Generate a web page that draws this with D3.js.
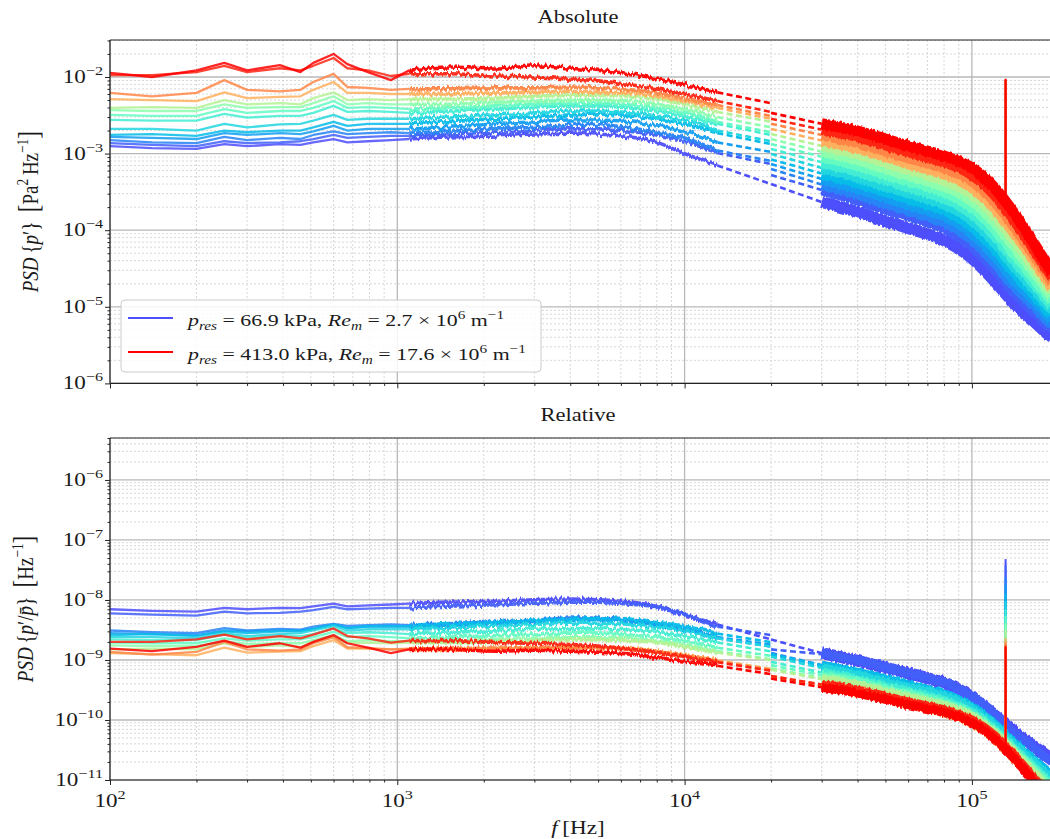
<!DOCTYPE html>
<html><head><meta charset="utf-8">
<script src="https://cdn.jsdelivr.net/npm/d3@7"></script>
<style>
body{margin:0;background:#fff}
svg{display:block}
text{font-family:"Liberation Serif","DejaVu Serif",serif;fill:#1a1a1a}
</style>
</head><body>
<svg id="c" width="1050" height="839"></svg>
<script>
// ---------------- DATA ----------------
const pressures = [66.9, 75, 95, 110, 130, 150, 175, 200, 230, 260, 320, 345, 395, 413.0]; // kPa
const freqA = [100, 140, 200, 250, 300, 390, 460, 510, 600, 670, 790, 950, 1100, 1500, 2200, 3000, 4000, 5000, 6500, 8000, 10000, 13000];
const freqGap = 20000;
const freqC = [30000, 40000, 50000, 60000, 70000, 80000, 100000, 120000, 140000, 160000, 190000];
const spikeFreq = 131000;
const xTickValues = [100, 1000, 10000, 100000];
const xTickExp = ["2", "3", "4", "5"];
const absTickValues = [1e-6, 1e-5, 1e-4, 1e-3, 1e-2];
const absTickExp = ["\u22126", "\u22125", "\u22124", "\u22123", "\u22122"];
const relTickValues = [1e-11, 1e-10, 1e-9, 1e-8, 1e-7, 1e-6];
const relTickExp = ["\u221211", "\u221210", "\u22129", "\u22128", "\u22127", "\u22126"];
const legendRe = ["2.7", "17.6"];
const legendP = ["66.9", "413.0"];

// Absolute PSD, Pa^2/Hz
const absA = [
 [1.25e-3,1.18e-3,1.15e-3,1.33e-3,1.25e-3,1.33e-3,1.3e-3,1.4e-3,1.55e-3,1.4e-3,1.45e-3,1.5e-3,1.55e-3,1.65e-3,1.7e-3,1.8e-3,1.85e-3,1.8e-3,1.65e-3,1.4e-3,1.0e-3,7.0e-4],
 [1.37e-3,1.3e-3,1.25e-3,1.45e-3,1.37e-3,1.4e-3,1.45e-3,1.55e-3,1.75e-3,1.6e-3,1.65e-3,1.7e-3,1.7e-3,1.8e-3,1.9e-3,2.0e-3,2.1e-3,2.1e-3,1.95e-3,1.75e-3,1.45e-3,1.02e-3],
 [1.5e-3,1.4e-3,1.37e-3,1.65e-3,1.5e-3,1.6e-3,1.55e-3,1.75e-3,1.95e-3,1.8e-3,1.85e-3,1.9e-3,1.85e-3,1.95e-3,2.1e-3,2.2e-3,2.4e-3,2.4e-3,2.15e-3,1.9e-3,1.6e-3,1.1e-3],
 [1.65e-3,1.6e-3,1.55e-3,1.85e-3,1.75e-3,1.85e-3,1.8e-3,1.95e-3,2.3e-3,2.0e-3,2.1e-3,2.1e-3,2.1e-3,2.2e-3,2.45e-3,2.6e-3,2.75e-3,2.75e-3,2.6e-3,2.3e-3,1.95e-3,1.4e-3],
 [1.75e-3,1.8e-3,1.7e-3,2.0e-3,1.9e-3,2.0e-3,2.0e-3,2.2e-3,2.6e-3,2.3e-3,2.45e-3,2.45e-3,2.45e-3,2.6e-3,2.85e-3,3.0e-3,3.2e-3,3.3e-3,3.1e-3,2.85e-3,2.45e-3,1.85e-3],
 [2.1e-3,2.1e-3,2.0e-3,2.45e-3,2.2e-3,2.4e-3,2.45e-3,2.7e-3,3.2e-3,2.75e-3,2.85e-3,2.85e-3,2.85e-3,3.0e-3,3.2e-3,3.4e-3,3.6e-3,3.6e-3,3.4e-3,3.1e-3,2.7e-3,2.0e-3],
 [2.75e-3,2.7e-3,2.7e-3,3.3e-3,2.95e-3,3.1e-3,3.1e-3,3.4e-3,4.2e-3,3.5e-3,3.6e-3,3.5e-3,3.4e-3,3.6e-3,3.8e-3,4.05e-3,4.2e-3,4.2e-3,3.95e-3,3.6e-3,3.1e-3,2.45e-3],
 [3.2e-3,3.1e-3,3.1e-3,3.8e-3,3.4e-3,3.6e-3,3.6e-3,3.95e-3,4.85e-3,3.95e-3,4.05e-3,3.95e-3,3.8e-3,3.95e-3,4.2e-3,4.4e-3,4.55e-3,4.55e-3,4.3e-3,3.95e-3,3.4e-3,2.6e-3],
 [3.7e-3,3.6e-3,3.6e-3,4.4e-3,3.95e-3,4.05e-3,4.05e-3,4.55e-3,5.6e-3,4.4e-3,4.55e-3,4.4e-3,4.4e-3,4.4e-3,4.7e-3,4.85e-3,5.0e-3,5.0e-3,4.85e-3,4.4e-3,3.8e-3,3.0e-3],
 [3.95e-3,4.05e-3,3.95e-3,5.0e-3,4.4e-3,4.55e-3,4.4e-3,5.3e-3,6.3e-3,5.0e-3,5.15e-3,5.0e-3,5.15e-3,5.15e-3,5.3e-3,5.6e-3,5.8e-3,5.8e-3,5.6e-3,5.15e-3,4.4e-3,3.5e-3],
 [5.15e-3,5.0e-3,4.85e-3,6.3e-3,5.3e-3,5.5e-3,5.6e-3,6.8e-3,8.6e-3,6.2e-3,6.2e-3,6.0e-3,6.0e-3,6.0e-3,6.2e-3,6.3e-3,6.5e-3,6.3e-3,6.2e-3,5.6e-3,4.85e-3,3.95e-3],
 [6.2e-3,5.6e-3,6.2e-3,9.1e-3,6.8e-3,6.5e-3,6.8e-3,8.6e-3,1.1e-2,7.4e-3,7.2e-3,6.8e-3,7.0e-3,7.0e-3,7.2e-3,7.2e-3,7.4e-3,7.2e-3,6.8e-3,6.2e-3,5.3e-3,4.3e-3],
 [1.06e-2,1.06e-2,1.16e-2,1.4e-2,1.16e-2,1.3e-2,1.22e-2,1.4e-2,1.77e-2,1.3e-2,1.22e-2,1.03e-2,1.1e-2,1.1e-2,1.03e-2,1.0e-2,9.4e-3,8.9e-3,7.9e-3,7.0e-3,6.0e-3,4.85e-3],
 [1.13e-2,1.0e-2,1.22e-2,1.53e-2,1.22e-2,1.43e-2,1.16e-2,1.53e-2,2.0e-2,1.47e-2,1.16e-2,9.1e-3,1.22e-2,1.35e-2,1.27e-2,1.4e-2,1.3e-2,1.22e-2,1.1e-2,9.4e-3,7.9e-3,6.3e-3]
];
const absGapEnd = [4.0e-4, 7.3e-4, 8.0e-4, 1.05e-3, 1.33e-3, 1.45e-3, 1.75e-3, 1.9e-3, 2.2e-3, 2.6e-3, 2.85e-3, 3.1e-3, 3.5e-3, 4.55e-3];
const absGapStart = [4.0e-4, 5.25e-4, 6.3e-4, 7.3e-4, 8.4e-4, 9.9e-4, 1.15e-3, 1.33e-3, 1.55e-3, 1.8e-3, 2.1e-3, 2.45e-3, 2.85e-3, 3.4e-3];
const absC = [
 [2.33e-4,1.73e-4,1.32e-4,1.07e-4,8.9e-5,7.4e-5,4.3e-5,2.17e-5,1.12e-5,7.1e-6,3.9e-6],
 [3.35e-4,2.48e-4,1.89e-4,1.53e-4,1.28e-4,1.07e-4,6.2e-5,3.1e-5,1.56e-5,9.6e-6,5.1e-6],
 [3.95e-4,2.95e-4,2.25e-4,1.82e-4,1.53e-4,1.28e-4,7.6e-5,3.8e-5,1.9e-5,1.15e-5,5.9e-6],
 [4.66e-4,3.5e-4,2.69e-4,2.18e-4,1.82e-4,1.53e-4,9.2e-5,4.7e-5,2.32e-5,1.37e-5,6.8e-6],
 [5.5e-4,4.16e-4,3.2e-4,2.59e-4,2.18e-4,1.84e-4,1.12e-4,5.7e-5,2.83e-5,1.63e-5,7.8e-6],
 [6.5e-4,4.95e-4,3.81e-4,3.09e-4,2.6e-4,2.2e-4,1.36e-4,7.0e-5,3.45e-5,1.94e-5,9.0e-6],
 [7.7e-4,5.9e-4,4.55e-4,3.69e-4,3.1e-4,2.63e-4,1.65e-4,8.6e-5,4.2e-5,2.32e-5,1.03e-5],
 [9.1e-4,7.0e-4,5.4e-4,4.4e-4,3.72e-4,3.15e-4,2.0e-4,1.05e-4,5.1e-5,2.76e-5,1.19e-5],
 [1.06e-3,8.3e-4,6.4e-4,5.2e-4,4.4e-4,3.78e-4,2.44e-4,1.29e-4,6.2e-5,3.3e-5,1.37e-5],
 [1.26e-3,1.0e-3,7.7e-4,6.2e-4,5.3e-4,4.5e-4,2.97e-4,1.58e-4,7.6e-5,3.9e-5,1.57e-5],
 [1.48e-3,1.17e-3,9.2e-4,7.4e-4,6.3e-4,5.4e-4,3.6e-4,1.94e-4,9.3e-5,4.7e-5,1.8e-5],
 [1.75e-3,1.4e-3,1.09e-3,8.8e-4,7.6e-4,6.5e-4,4.4e-4,2.37e-4,1.13e-4,5.6e-5,2.1e-5],
 [2.06e-3,1.66e-3,1.30e-3,1.06e-3,8.9e-4,7.8e-4,5.3e-4,2.9e-4,1.37e-4,6.6e-5,2.4e-5],
 [2.45e-3,1.97e-3,1.55e-3,1.26e-3,1.08e-3,9.3e-4,6.5e-4,3.56e-4,1.68e-4,7.9e-5,2.76e-5]
];
const absSpikeBase = [1.56e-5, 2.2e-5, 2.7e-5, 3.3e-5, 4.0e-5, 4.9e-5, 6.0e-5, 7.3e-5, 8.9e-5, 1.1e-4, 1.34e-4, 1.64e-4, 2.0e-4, 2.45e-4];
const absSpikeTop = [9.0e-3, 9.0e-3, 9.0e-3, 9.0e-3, 9.0e-3, 9.0e-3, 9.0e-3, 9.0e-3, 9.0e-3, 9.0e-3, 9.0e-3, 9.0e-3, 9.2e-3, 9.5e-3];

// Relative PSD, 1/Hz
const relA = [
 [7.0e-9,6.6e-9,6.4e-9,7.4e-9,7.0e-9,7.4e-9,7.3e-9,7.8e-9,8.7e-9,7.8e-9,8.1e-9,8.4e-9,8.7e-9,9.2e-9,9.5e-9,1.01e-8,1.04e-8,1.01e-8,9.2e-9,7.8e-9,5.6e-9,3.9e-9],
 [6.0e-9,5.7e-9,5.5e-9,6.4e-9,6.0e-9,6.1e-9,6.4e-9,6.8e-9,7.7e-9,7.0e-9,7.2e-9,7.4e-9,7.4e-9,7.9e-9,8.3e-9,8.8e-9,9.2e-9,9.2e-9,8.5e-9,7.7e-9,5.8e-9,3.6e-9],
 [3.1e-9,2.9e-9,2.8e-9,3.4e-9,3.1e-9,3.3e-9,3.2e-9,3.6e-9,4.0e-9,3.7e-9,3.8e-9,3.9e-9,3.8e-9,4.0e-9,4.3e-9,4.6e-9,5.0e-9,5.0e-9,4.5e-9,3.9e-9,3.3e-9,2.3e-9],
 [2.8e-9,2.7e-9,2.6e-9,3.1e-9,3.0e-9,3.1e-9,3.1e-9,3.3e-9,3.9e-9,3.4e-9,3.6e-9,3.6e-9,3.6e-9,3.7e-9,4.2e-9,4.4e-9,4.7e-9,4.7e-9,4.4e-9,3.9e-9,3.3e-9,2.4e-9],
 [2.6e-9,2.7e-9,2.5e-9,3.0e-9,2.8e-9,3.0e-9,3.0e-9,3.3e-9,3.9e-9,3.4e-9,3.65e-9,3.65e-9,3.65e-9,3.9e-9,4.2e-9,4.5e-9,4.8e-9,4.9e-9,4.6e-9,4.2e-9,3.65e-9,2.75e-9],
 [2.4e-9,2.4e-9,2.3e-9,2.8e-9,2.5e-9,2.7e-9,2.8e-9,3.1e-9,3.65e-9,3.1e-9,3.25e-9,3.25e-9,3.25e-9,3.4e-9,3.65e-9,3.9e-9,4.1e-9,4.1e-9,3.9e-9,3.5e-9,3.1e-9,2.3e-9],
 [2.2e-9,2.15e-9,2.15e-9,2.65e-9,2.35e-9,2.5e-9,2.5e-9,2.7e-9,3.35e-9,2.8e-9,2.9e-9,2.8e-9,2.7e-9,2.9e-9,3.05e-9,3.25e-9,3.35e-9,3.35e-9,3.15e-9,2.9e-9,2.5e-9,1.95e-9],
 [1.95e-9,1.9e-9,1.9e-9,2.3e-9,2.1e-9,2.2e-9,2.2e-9,2.4e-9,2.95e-9,2.4e-9,2.5e-9,2.4e-9,2.3e-9,2.4e-9,2.55e-9,2.7e-9,2.8e-9,2.8e-9,2.6e-9,2.4e-9,2.1e-9,1.6e-9],
 [1.75e-9,1.7e-9,1.7e-9,2.05e-9,1.85e-9,1.9e-9,1.9e-9,2.15e-9,2.6e-9,2.05e-9,2.15e-9,2.05e-9,2.05e-9,2.05e-9,2.2e-9,2.3e-9,2.35e-9,2.35e-9,2.3e-9,2.05e-9,1.8e-9,1.4e-9],
 [1.5e-9,1.55e-9,1.5e-9,1.9e-9,1.65e-9,1.75e-9,1.65e-9,2.0e-9,2.4e-9,1.9e-9,1.95e-9,1.9e-9,1.95e-9,1.95e-9,2.0e-9,2.1e-9,2.2e-9,2.2e-9,2.1e-9,1.95e-9,1.65e-9,1.33e-9],
 [1.3e-9,1.25e-9,1.2e-9,1.6e-9,1.33e-9,1.38e-9,1.4e-9,1.7e-9,2.15e-9,1.55e-9,1.55e-9,1.5e-9,1.5e-9,1.5e-9,1.55e-9,1.6e-9,1.6e-9,1.6e-9,1.55e-9,1.4e-9,1.2e-9,9.9e-10],
 [1.36e-9,1.23e-9,1.36e-9,2.0e-9,1.5e-9,1.43e-9,1.5e-9,1.9e-9,2.4e-9,1.63e-9,1.58e-9,1.5e-9,1.54e-9,1.54e-9,1.58e-9,1.58e-9,1.63e-9,1.58e-9,1.5e-9,1.36e-9,1.17e-9,9.5e-10],
 [2.0e-9,2.0e-9,2.2e-9,2.65e-9,2.2e-9,2.5e-9,2.3e-9,2.65e-9,3.35e-9,2.5e-9,2.3e-9,1.95e-9,2.1e-9,2.1e-9,1.95e-9,1.9e-9,1.8e-9,1.7e-9,1.5e-9,1.33e-9,1.14e-9,9.2e-10],
 [1.55e-9,1.4e-9,1.65e-9,2.1e-9,1.65e-9,1.9e-9,1.6e-9,2.0e-9,2.6e-9,1.9e-9,1.6e-9,1.3e-9,1.5e-9,1.5e-9,1.4e-9,1.45e-9,1.4e-9,1.35e-9,1.25e-9,1.1e-9,9.5e-10,8.0e-10]
];
const relGapEnd = [2.2e-9, 2.6e-9, 1.67e-9, 1.8e-9, 1.98e-9, 1.67e-9, 1.39e-9, 1.17e-9, 1.03e-9, 9.9e-10, 7.1e-10, 6.8e-10, 6.6e-10, 5.8e-10];
const relGapStart = [2.2e-9, 1.5e-9, 1.31e-9, 1.24e-9, 1.25e-9, 1.13e-9, 9.3e-10, 8.2e-10, 7.3e-10, 6.9e-10, 5.3e-10, 5.4e-10, 5.4e-10, 4.9e-10];
const relC = [
 [1.3e-9,9.7e-10,7.4e-10,6.0e-10,5.0e-10,4.1e-10,2.4e-10,1.2e-10,6.3e-11,4.0e-11,2.2e-11],
 [1.25e-9,9.9e-10,7.6e-10,6.1e-10,5.1e-10,4.3e-10,2.5e-10,1.24e-10,6.2e-11,3.8e-11,2.0e-11],
 [8.2e-10,6.1e-10,4.7e-10,3.8e-10,3.2e-10,2.65e-10,1.57e-10,7.9e-11,3.9e-11,2.4e-11,1.2e-11],
 [7.9e-10,6.0e-10,4.6e-10,3.7e-10,3.1e-10,2.6e-10,1.56e-10,8.0e-11,3.9e-11,2.3e-11,1.16e-11],
 [8.2e-10,6.2e-10,4.8e-10,3.9e-10,3.2e-10,2.7e-10,1.67e-10,8.5e-11,4.2e-11,2.4e-11,1.16e-11],
 [7.4e-10,5.6e-10,4.3e-10,3.5e-10,3.0e-10,2.5e-10,1.55e-10,8.0e-11,3.9e-11,2.2e-11,1.03e-11],
 [6.2e-10,4.7e-10,3.6e-10,2.95e-10,2.5e-10,2.1e-10,1.32e-10,6.9e-11,3.4e-11,1.86e-11,8.2e-12],
 [5.6e-10,4.3e-10,3.3e-10,2.7e-10,2.3e-10,1.9e-10,1.22e-10,6.4e-11,3.1e-11,1.7e-11,7.3e-12],
 [5.0e-10,3.9e-10,3.0e-10,2.45e-10,2.07e-10,1.78e-10,1.15e-10,6.1e-11,2.9e-11,1.55e-11,6.4e-12],
 [4.8e-10,3.8e-10,2.9e-10,2.35e-10,2.0e-10,1.7e-10,1.13e-10,6.0e-11,2.9e-11,1.48e-11,6.0e-12],
 [3.7e-10,2.9e-10,2.3e-10,1.85e-10,1.58e-10,1.35e-10,9.0e-11,4.9e-11,2.3e-11,1.18e-11,4.5e-12],
 [3.85e-10,3.1e-10,2.4e-10,1.94e-10,1.67e-10,1.43e-10,9.7e-11,5.2e-11,2.5e-11,1.23e-11,4.6e-12],
 [3.9e-10,3.15e-10,2.5e-10,2.0e-10,1.7e-10,1.48e-10,1.0e-10,5.5e-11,2.6e-11,1.25e-11,4.6e-12],
 [3.5e-10,2.8e-10,2.2e-10,1.8e-10,1.55e-10,1.33e-10,9.0e-11,4.9e-11,2.3e-11,1.1e-11,3.8e-12]
];
const relSpikeBase = [8.7e-11, 8.8e-11, 5.5e-11, 5.6e-11, 6.0e-11, 5.6e-11, 4.8e-11, 4.5e-11, 4.2e-11, 4.2e-11, 3.4e-11, 3.6e-11, 3.8e-11, 3.4e-11];
const relSpikeTop = [4.8e-8, 3.8e-8, 2.4e-8, 1.8e-8, 1.27e-8, 9.5e-9, 7.0e-9, 5.4e-9, 4.1e-9, 3.2e-9, 2.3e-9, 2.0e-9, 1.75e-9, 1.65e-9];

// ---------------- DRAWING ----------------
const svg = d3.select('#c');
const defs = svg.append('defs');
const xMax = 1.87e5;
const x = d3.scaleLog().domain([100, xMax]).range([110, 1050]);
const SX = 1.25;   // horizontal glyph stretch seen in the reference

function rainbow(t){
  const r = Math.min(1, Math.abs(2*t - 0.5)), g = Math.sin(Math.PI*t), b = Math.cos(Math.PI*t/2);
  return d3.rgb(r*255, g*255, b*255).formatHex();
}
const pMin = d3.min(pressures), pMax = d3.max(pressures);
const color = p => rainbow(0.1 + 0.9*(p - pMin)/(pMax - pMin));

// jitter filters: visual texture for the densely sampled spectra
function jitterFilter(id, seed, freq, scale){
  const f = defs.append('filter').attr('id', id).attr('filterUnits', 'userSpaceOnUse')
    .attr('x', 0).attr('y', 0).attr('width', 1050).attr('height', 839).attr('color-interpolation-filters', 'sRGB');
  f.append('feTurbulence').attr('type', 'fractalNoise').attr('baseFrequency', freq)
    .attr('numOctaves', 2).attr('seed', seed).attr('result', 'n');
  f.append('feColorMatrix').attr('in', 'n').attr('type', 'matrix')
    .attr('values', '0 0 0 0 0.5  1 0 0 0 0  0 0 0 0 0  0 0 0 0 1').attr('result', 'm');
  f.append('feDisplacementMap').attr('in', 'SourceGraphic').attr('in2', 'm').attr('scale', scale)
    .attr('xChannelSelector', 'R').attr('yChannelSelector', 'G');
}
pressures.forEach((p, i) => {
  jitterFilter('jitA' + i, i*7 + 3, '0.4 0.02', 7);
  jitterFilter('jitC' + i, i*5 + 11, '0.45 0.03', 5);
});

function minors(lo, hi){
  const out = [];
  for (let k = Math.floor(Math.log10(lo)); k <= Math.ceil(Math.log10(hi)); k++)
    for (let m = 2; m <= 9; m++){ const v = m*Math.pow(10,k); if (v > lo && v < hi) out.push(v); }
  return out;
}

function addMath(sel, parts, baseSize){
  parts.forEach(p => {
    const ts = sel.append('tspan').text(p.t);
    if (p.i) ts.attr('font-style','italic');
    if (p.sub){ ts.attr('font-size', baseSize*0.7).attr('baseline-shift', -baseSize*0.22); }
    if (p.sup){ ts.attr('font-size', baseSize*0.7).attr('baseline-shift', baseSize*0.42); }
    if (p.fs) ts.attr('font-size', p.fs);
  });
}
function stext(parent, px, py, size, anchor, rot){
  return parent.append('text')
    .attr('transform', `translate(${px},${py}) scale(${SX},1)` + (rot ? ` rotate(${rot})` : ''))
    .attr('text-anchor', anchor).attr('font-size', size);
}

function panel(cfg){
  const y = d3.scaleLog().domain(cfg.domain).range(cfg.range);
  const top = cfg.range[1], bot = cfg.range[0], left = 110, right = 1050;
  const g = svg.append('g');
  const clipId = 'clip' + cfg.id;
  defs.append('clipPath').attr('id', clipId).append('rect')
    .attr('x', left).attr('y', top).attr('width', right-left).attr('height', bot-top);

  // grid
  const grid = g.append('g');
  minors(100, xMax).forEach(v => grid.append('line').attr('x1', x(v)).attr('x2', x(v)).attr('y1', top).attr('y2', bot)
    .attr('stroke', '#cdcdcd').attr('stroke-width', 0.8).attr('stroke-dasharray', '2,2'));
  minors(cfg.domain[0], cfg.domain[1]).forEach(v => grid.append('line').attr('y1', y(v)).attr('y2', y(v)).attr('x1', left).attr('x2', right)
    .attr('stroke', '#cdcdcd').attr('stroke-width', 0.8).attr('stroke-dasharray', '2,2'));
  xTickValues.forEach(v => grid.append('line').attr('x1', x(v)).attr('x2', x(v)).attr('y1', top).attr('y2', bot)
    .attr('stroke', '#b8b8b8').attr('stroke-width', 1.3));
  cfg.ticks.forEach(v => grid.append('line').attr('y1', y(v)).attr('y2', y(v)).attr('x1', left).attr('x2', right)
    .attr('stroke', '#b8b8b8').attr('stroke-width', 1.3));

  // data
  const dg = g.append('g').attr('clip-path', `url(#${clipId})`);
  const line = d3.line().x(d => x(d[0])).y(d => y(d[1]));
  const smooth = d3.line().x(d => x(d[0])).y(d => y(d[1])).curve(d3.curveMonotoneX);
  const nA = freqA.length, split = freqA.indexOf(1100);
  pressures.forEach((p, i) => {
    const c = color(p);
    const ptsA = freqA.map((f, j) => [f, cfg.A[i][j]]);
    dg.append('path').attr('d', line(ptsA.slice(0, split+1))).attr('fill','none').attr('stroke', c)
      .attr('stroke-width', 2.3).attr('stroke-opacity', 0.85).attr('stroke-linejoin','round');
    dg.append('path').attr('d', smooth(ptsA.slice(split))).attr('fill','none').attr('stroke', c)
      .attr('stroke-width', 3.6).attr('stroke-opacity', 0.95).attr('filter', `url(#jitA${i})`);
    const d1 = [[freqA[nA-1], cfg.A[i][nA-1]], [freqGap, cfg.gapEnd[i]]];
    const d2 = [[freqGap, cfg.gapStart[i]], [freqC[0], cfg.C[i][0]]];
    [d1, d2].forEach(d => dg.append('path').attr('d', line(d)).attr('fill','none').attr('stroke', c)
      .attr('stroke-width', 2.6).attr('stroke-dasharray', '6,3.5'));
    dg.append('path').attr('d', smooth(freqC.map((f, j) => [f, cfg.C[i][j]]))).attr('fill','none').attr('stroke', c)
      .attr('stroke-width', i === 0 ? 12 : cfg.cWidth).attr('filter', `url(#jitC${i})`);
    dg.append('line').attr('x1', x(spikeFreq)).attr('x2', x(spikeFreq))
      .attr('y1', y(cfg.spikeBase[i])).attr('y2', y(cfg.spikeTop[i])).attr('stroke', c).attr('stroke-width', 2);
  });

  // ticks via d3 axes
  const yAxis = d3.axisLeft(y).tickValues(cfg.ticks).tickSize(5).tickSizeOuter(0).tickFormat('');
  const yAxisMinor = d3.axisLeft(y).tickValues(minors(cfg.domain[0], cfg.domain[1])).tickSize(2.5).tickSizeOuter(0).tickFormat('');
  const xAxis = d3.axisBottom(x).tickValues(xTickValues).tickSize(5).tickSizeOuter(0).tickFormat('');
  const xAxisMinor = d3.axisBottom(x).tickValues(minors(100, xMax)).tickSize(2.5).tickSizeOuter(0).tickFormat('');
  [yAxis, yAxisMinor].forEach(a => { const ag = g.append('g').attr('transform', `translate(${left},0)`).call(a);
    ag.select('.domain').remove(); ag.selectAll('line').attr('stroke', '#222').attr('stroke-width', 1); });
  [xAxis, xAxisMinor].forEach(a => { const ag = g.append('g').attr('transform', `translate(0,${bot})`).call(a);
    ag.select('.domain').remove(); ag.selectAll('line').attr('stroke', '#222').attr('stroke-width', 1); });

  // spines
  g.append('line').attr('x1', left).attr('x2', right).attr('y1', top).attr('y2', top).attr('stroke', '#222').attr('stroke-width', 1.2);
  g.append('line').attr('x1', left).attr('x2', right).attr('y1', bot).attr('y2', bot).attr('stroke', '#222').attr('stroke-width', 1.2);
  g.append('line').attr('x1', left).attr('x2', left).attr('y1', top).attr('y2', bot).attr('stroke', '#222').attr('stroke-width', 1.2);

  // y tick labels
  cfg.ticks.forEach((v, k) => {
    const t = stext(g, 103, y(v) + 6, 18.5, 'end');
    addMath(t, [{t:'10'}, {t:cfg.tickExp[k], sup:true}], 18.5);
  });
  // x tick labels
  if (cfg.xLabels){
    xTickValues.forEach((v, k) => {
      const t = stext(g, x(v), bot + 27, 18.5, 'middle');
      addMath(t, [{t:'10'}, {t:xTickExp[k], sup:true}], 18.5);
    });
  }
  // title
  stext(g, 578, top - 17, 18, 'middle').text(cfg.title);
  // y label
  const yl = stext(g, cfg.ylabX, (top+bot)/2, 19, 'middle', -90);
  addMath(yl, cfg.ylabel, 19);
  return {y, g};
}

panel({id:'abs', domain:[1e-6, 0.0304], range:[383.4, 40], ticks:absTickValues, tickExp:absTickExp,
  A:absA, gapEnd:absGapEnd, gapStart:absGapStart, C:absC, spikeBase:absSpikeBase, spikeTop:absSpikeTop,
  cWidth:11, xLabels:false, title:'Absolute', ylabX:38,
  ylabel:[{t:'PSD', i:true}, {t:'\u2009{'}, {t:'p', i:true}, {t:'\u2032'}, {t:'}'}, {t:'\u2002'}, {t:'[', fs:23}, {t:'Pa'}, {t:'2', sup:true}, {t:'\u2009Hz'}, {t:'\u22121', sup:true}, {t:']', fs:23}]});

panel({id:'rel', domain:[1e-11, 5.0e-6], range:[780, 438], ticks:relTickValues, tickExp:relTickExp,
  A:relA, gapEnd:relGapEnd, gapStart:relGapStart, C:relC, spikeBase:relSpikeBase, spikeTop:relSpikeTop,
  cWidth:9, xLabels:true, title:'Relative', ylabX:33,
  ylabel:[{t:'PSD', i:true}, {t:'\u2009{'}, {t:'p', i:true}, {t:'\u2032/'}, {t:'p\u0304', i:true}, {t:'}'}, {t:'\u2002'}, {t:'[', fs:23}, {t:'Hz'}, {t:'\u22121', sup:true}, {t:']', fs:23}]});

// x label
const xl = stext(svg, 578, 834, 18.5, 'middle');
addMath(xl, [{t:'f', i:true}, {t:'\u2009[Hz]'}], 18.5);

// legend
const lg = svg.append('g');
lg.append('rect').attr('x', 121).attr('y', 300).attr('width', 420).attr('height', 72).attr('rx', 4)
  .attr('fill', '#fff').attr('fill-opacity', 0.85).attr('stroke', '#cccccc').attr('stroke-width', 1);
[0, pressures.length - 1].forEach((idx, k) => {
  const yy = 318 + k*34;
  lg.append('line').attr('x1', 128).attr('x2', 173).attr('y1', yy).attr('y2', yy)
    .attr('stroke', color(pressures[idx])).attr('stroke-width', 2.2);
  const t = stext(lg, 188, yy + 8, 17.5, 'start');
  addMath(t, [{t:'p', i:true}, {t:'res', i:true, sub:true}, {t:' = ' + legendP[k] + ' kPa, '},
    {t:'Re', i:true}, {t:'m', i:true, sub:true}, {t:' = ' + legendRe[k] + ' \u00d7 10'}, {t:'6', sup:true},
    {t:' m'}, {t:'\u22121', sup:true}], 17.5);
});
</script>
</body></html>
